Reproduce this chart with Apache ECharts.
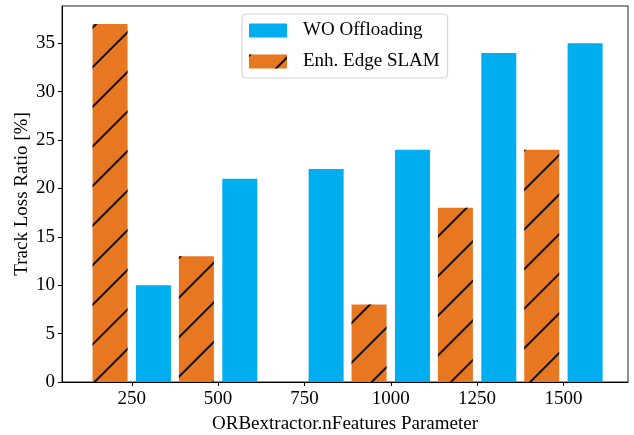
<!DOCTYPE html>
<html>
<head>
<meta charset="utf-8">
<script src="https://cdn.jsdelivr.net/npm/echarts@6/dist/echarts.min.js"></script>
<style>html,body{margin:0;padding:0;background:#fff}#c{width:634px;height:435px}</style>
</head>
<body>
<div id="c"></div>
<script>
const nFeatures = [250, 500, 750, 1000, 1250, 1500];
const enhEdgeSlam = [37, 13, 0, 8, 18, 24];
const woOffloading = [10, 21, 22, 24, 34, 35];
const yTicks = [0, 5, 10, 15, 20, 25, 30, 35];

const FONT = 'Liberation Serif';
const FS = 19;
const chart = echarts.init(document.getElementById('c'));
chart.setOption({
  animation: false,
  textStyle: { fontFamily: FONT, color: '#000' },
  grid: { left: 62, right: 6, top: 6, bottom: 53, show: true, borderColor: '#222', borderWidth: 1, containLabel: false, outerBoundsMode: 'none' },
  legend: {
    data: ['WO Offloading', 'Enh. Edge SLAM'],
    orient: 'vertical',
    left: 242, top: 14,
    padding: [7, 8, 7, 7],
    itemWidth: 38, itemHeight: 14, itemGap: 12,
    borderColor: '#d0d0d0', borderWidth: 1, borderRadius: 4,
    icon: 'rect',
    textStyle: { fontFamily: FONT, fontSize: FS, color: '#000', padding: [0, 0, 0, 11] }
  },
  xAxis: {
    type: 'value', min: 48, max: 1687,
    name: 'ORBextractor.nFeatures Parameter', nameLocation: 'middle', nameGap: 33,
    nameTextStyle: { fontFamily: FONT, fontSize: FS, color: '#000' },
    splitLine: { show: false },
    axisLine: { show: true, lineStyle: { color: '#000' } },
    axisTick: { show: true, inside: false, length: 4, lineStyle: { color: '#000' }, customValues: nFeatures },
    axisLabel: { fontFamily: FONT, fontSize: FS, color: '#000', margin: 8, customValues: nFeatures, formatter: v => String(v) }
  },
  yAxis: {
    type: 'value', min: 0, max: 38.85,
    name: 'Track Loss Ratio [%]', nameLocation: 'middle', nameGap: 30, nameRotate: 90, nameMoveOverlap: false,
    nameTextStyle: { fontFamily: FONT, fontSize: FS, color: '#000' },
    splitLine: { show: false },
    axisLine: { show: true, lineStyle: { color: '#000' } },
    axisTick: { show: true, length: 4, lineStyle: { color: '#000' }, customValues: yTicks },
    axisLabel: { fontFamily: FONT, fontSize: FS, color: '#000', margin: 7, customValues: yTicks, formatter: v => String(v) }
  },
  series: [
    {
      name: 'Enh. Edge SLAM', type: 'bar', barWidth: 35, barGap: '24%',
      data: nFeatures.map((x, i) => [x, enhEdgeSlam[i]]),
      itemStyle: {
        color: '#E87722',
        decal: { symbol: 'rect', symbolSize: 1, color: '#111', dashArrayX: [1, 0], dashArrayY: [1.1, 25.3], rotation: -Math.PI / 4 }
      }
    },
    {
      name: 'WO Offloading', type: 'bar', barWidth: 35, barGap: '24%',
      data: nFeatures.map((x, i) => [x, woOffloading[i]]),
      itemStyle: { color: '#00AEEF' }
    }
  ]
});
</script>
</body>
</html>
